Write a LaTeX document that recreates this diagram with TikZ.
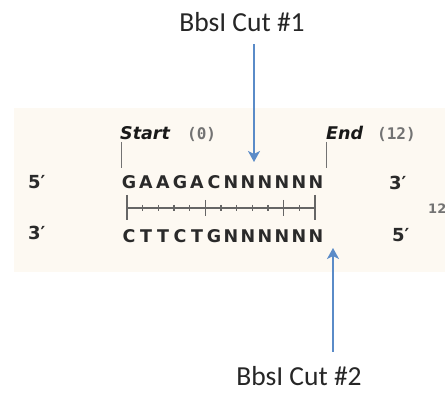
\documentclass[tikz,border=0pt]{standalone}
\usepackage{fontspec}
\setmainfont{Carlito}
\newfontfamily\seqfont{DejaVu Sans}
\newfontfamily\posfont{DejaVu Sans Mono}
\usetikzlibrary{arrows.meta}

\definecolor{cutblue}{HTML}{5A8BC8}
\definecolor{bandcream}{HTML}{FDF9F2}
\definecolor{seqgray}{HTML}{2A2A2A}

\tikzset{
  base/.style={font=\seqfont\bfseries\fontsize{17.5}{19}\selectfont,text=seqgray,inner sep=0pt,anchor=base},
  endlbl/.style={font=\seqfont\bfseries\fontsize{18}{20}\selectfont,text=seqgray,inner sep=0pt,anchor=base west},
  marklbl/.style={font=\seqfont\bfseries\itshape\fontsize{17.5}{19}\selectfont,text=black!90,inner sep=0pt,anchor=base west},
  poslbl/.style={font=\posfont\bfseries\fontsize{16}{18}\selectfont,text=black!55,inner sep=0pt,anchor=base west},
  cutlbl/.style={font=\fontsize{27.5}{30}\selectfont,text=black!85,inner sep=0pt,anchor=base},
  cutarrow/.style={-{Stealth[length=11pt,width=12pt,inset=3pt]},line width=2pt,draw=cutblue},
  tick/.style={draw=black!60,line width=1.1pt},
}

\begin{document}
\begin{tikzpicture}[x=1pt,y=-1pt]
  \useasboundingbox[fill=white] (0,0) rectangle (445,393);
  \fill[bandcream] (14,108) rectangle (445,272);

  % strand ends
  \node[endlbl] (top5) at (28,189) {5′};
  \node[endlbl] (top3) at (389,190) {3′};
  \node[endlbl] (bot3) at (28,240) {3′};
  \node[endlbl] (bot5) at (392,241) {5′};
  \node[poslbl,font=\seqfont\bfseries\fontsize{13}{15}\selectfont] (len) at (428,214) {12};

  % top and bottom strand
  \foreach \b [count=\i from 0] in {G,A,A,G,A,C,N,N,N,N,N,N}
    \node[base] (t\i) at (129+17*\i,189) {\b};
  \foreach \b [count=\i from 0] in {C,T,T,C,T,G,N,N,N,N,N,N}
    \node[base] (b\i) at (129+17*\i,243) {\b};

  % ruler between the strands
  \draw[tick] (127,208) -- (315,208);
  \foreach \k in {1,2,3,4,6,7,8,9,11}
    \draw[tick] ({127+15.667*\k},205) -- ++(0,6);
  \foreach \k in {5,10}
    \draw[tick] ({127+15.667*\k},200) -- ++(0,16);
  \foreach \k in {0,12}
    \draw[tick] ({127+15.667*\k},195) -- ++(0,25);

  % start / end markers
  \node[marklbl] (start) at (120,140) {Start};
  \node[poslbl] (startpos) at (187,140) {(0)};
  \node[marklbl] (end) at (326,140) {End};
  \node[poslbl] (endpos) at (377,140) {(12)};
  \draw[black!55,line width=0.8pt] (start.base west) ++(1,2) -- ++(0,26);
  \draw[black!55,line width=0.8pt] (end.base west) ++(0,2) -- ++(0,26);

  % cut sites
  \node[cutlbl] (cut1) at (242,32) {BbsI Cut \#1};
  \node[cutlbl] (cut2) at (299,385) {BbsI Cut \#2};
  \coordinate (cut1tip) at (254,162);
  \coordinate (cut2tip) at (333,248);
  \draw[cutarrow,shorten <=12pt] (cut1.south -| cut1tip) -- (cut1tip);
  \draw[cutarrow,shorten <=14pt] (cut2.north -| cut2tip) -- (cut2tip);
\end{tikzpicture}
\end{document}
